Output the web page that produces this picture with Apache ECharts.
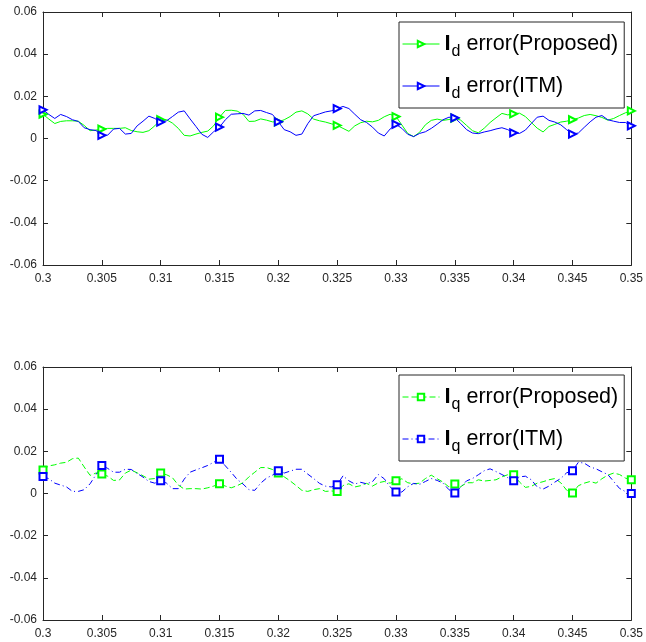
<!DOCTYPE html>
<html><head><meta charset="utf-8">
<script src="https://cdn.jsdelivr.net/npm/echarts@6/dist/echarts.min.js"></script>
<style>html,body{margin:0;padding:0;background:#fff}#c{width:646px;height:642px}</style>
</head><body><div id="c"></div>
<script>
// sample instants (s)
const time = [
0.3,0.3005,0.301,0.3015,0.302,0.3025,0.303,0.3035,0.304,0.3045,
0.305,0.3055,0.306,0.3065,0.307,0.3075,0.308,0.3085,0.309,0.3095,
0.31,0.3105,0.311,0.3115,0.312,0.3125,0.313,0.3135,0.314,0.3145,
0.315,0.3155,0.316,0.3165,0.317,0.3175,0.318,0.3185,0.319,0.3195,
0.32,0.3205,0.321,0.3215,0.322,0.3225,0.323,0.3235,0.324,0.3245,
0.325,0.3255,0.326,0.3265,0.327,0.3275,0.328,0.3285,0.329,0.3295,
0.33,0.3305,0.331,0.3315,0.332,0.3325,0.333,0.3335,0.334,0.3345,
0.335,0.3355,0.336,0.3365,0.337,0.3375,0.338,0.3385,0.339,0.3395,
0.34,0.3405,0.341,0.3415,0.342,0.3425,0.343,0.3435,0.344,0.3445,
0.345,0.3455,0.346,0.3465,0.347,0.3475,0.348,0.3485,0.349,0.3495,
0.35];

const idProposed = [
0.0115,0.0092,0.0071,0.0081,0.0084,0.0084,0.0082,0.0062,0.0037,0.0040,
0.0045,0.0048,0.0048,0.0048,0.0051,0.0038,0.0032,0.0029,0.0037,0.0060,
0.0089,0.0089,0.0073,0.0048,0.0015,0.0012,0.0021,0.0029,0.0035,0.0060,
0.0101,0.0133,0.0134,0.0130,0.0115,0.0081,0.0082,0.0093,0.0087,0.0079,
0.0079,0.0089,0.0104,0.0125,0.0131,0.0117,0.0092,0.0084,0.0078,0.0070,
0.0062,0.0048,0.0034,0.0060,0.0075,0.0082,0.0079,0.0086,0.0103,0.0115,
0.0104,0.0064,0.0024,0.0009,0.0029,0.0065,0.0086,0.0092,0.0086,0.0090,
0.0097,0.0087,0.0062,0.0037,0.0027,0.0049,0.0076,0.0098,0.0119,0.0112,
0.0117,0.0120,0.0104,0.0076,0.0049,0.0031,0.0057,0.0067,0.0078,0.0082,
0.0089,0.0097,0.0109,0.0114,0.0108,0.0100,0.0087,0.0095,0.0109,0.0122,
0.0131];

const idITM = [
0.0136,0.0114,0.0095,0.0114,0.0104,0.0089,0.0081,0.0051,0.0042,0.0038,
0.0015,0.0016,0.0045,0.0048,0.0021,0.0024,0.0060,0.0082,0.0106,0.0095,
0.0078,0.0084,0.0104,0.0125,0.0131,0.0093,0.0057,0.0020,0.0005,0.0032,
0.0054,0.0089,0.0115,0.0117,0.0119,0.0111,0.0131,0.0133,0.0123,0.0114,
0.0079,0.0042,0.0032,0.0015,0.0021,0.0070,0.0108,0.0117,0.0126,0.0131,
0.0142,0.0152,0.0142,0.0115,0.0089,0.0076,0.0054,0.0026,0.0012,0.0045,
0.0067,0.0048,0.0020,0.0009,0.0024,0.0032,0.0048,0.0068,0.0089,0.0101,
0.0098,0.0071,0.0042,0.0026,0.0023,0.0031,0.0037,0.0045,0.0051,0.0042,
0.0027,0.0024,0.0040,0.0071,0.0101,0.0106,0.0086,0.0078,0.0065,0.0042,
0.0021,0.0026,0.0053,0.0079,0.0101,0.0109,0.0089,0.0082,0.0076,0.0076,
0.0060];

const iqProposed = [
0.0112,0.0131,0.0136,0.0144,0.0148,0.0165,0.0168,0.0126,0.0086,0.0097,
0.0092,0.0082,0.0062,0.0064,0.0097,0.0111,0.0098,0.0084,0.0068,0.0071,
0.0097,0.0089,0.0075,0.0040,0.0021,0.0023,0.0023,0.0021,0.0027,0.0035,
0.0046,0.0035,0.0027,0.0037,0.0051,0.0079,0.0101,0.0123,0.0123,0.0114,
0.0097,0.0079,0.0060,0.0038,0.0015,0.0010,0.0018,0.0023,0.0010,0.0012,
0.0010,0.0038,0.0046,0.0031,0.0037,0.0048,0.0035,0.0051,0.0057,0.0049,
0.0060,0.0070,0.0051,0.0046,0.0049,0.0071,0.0087,0.0070,0.0054,0.0031,
0.0045,0.0032,0.0051,0.0051,0.0065,0.0059,0.0062,0.0065,0.0079,0.0089,
0.0089,0.0054,0.0029,0.0034,0.0049,0.0056,0.0065,0.0071,0.0051,0.0016,
0.0002,0.0037,0.0049,0.0057,0.0049,0.0070,0.0087,0.0097,0.0090,0.0073,
0.0065];

const iqITM = [
0.0081,0.0070,0.0049,0.0040,0.0031,0.0010,0.0010,0.0018,0.0046,0.0089,
0.0133,0.0119,0.0101,0.0101,0.0115,0.0114,0.0095,0.0078,0.0057,0.0049,
0.0060,0.0049,0.0023,0.0023,0.0068,0.0101,0.0112,0.0122,0.0133,0.0148,
0.0163,0.0131,0.0100,0.0067,0.0045,0.0018,0.0015,0.0049,0.0073,0.0087,
0.0108,0.0097,0.0106,0.0115,0.0115,0.0092,0.0071,0.0048,0.0035,0.0031,
0.0042,0.0084,0.0060,0.0045,0.0053,0.0046,0.0056,0.0090,0.0070,0.0031,
0.0007,0.0007,0.0032,0.0048,0.0043,0.0057,0.0071,0.0062,0.0049,0.0018,
0.0002,0.0031,0.0060,0.0071,0.0089,0.0108,0.0117,0.0104,0.0090,0.0075,
0.0060,0.0079,0.0082,0.0065,0.0031,0.0021,0.0035,0.0054,0.0071,0.0098,
0.0108,0.0148,0.0144,0.0126,0.0117,0.0103,0.0090,0.0057,0.0024,0.0009,
0.0000];

const xMin = 0.3, xMax = 0.35, xStep = 0.005;
const yMin = -0.06, yMax = 0.06, yStep = 0.02;

const FONT = 'Liberation Sans, Arial, sans-serif';
const AX = '#262626';
const GREEN = '#00ff00', BLUE = '#0000ff';

const legendText = {
  'Id error(Proposed)': '{b|I}{s|d}{t| error(Proposed)}',
  'Id error(ITM)': '{b|I}{s|d}{t| error(ITM)}',
  'Iq error(Proposed)': '{b|I}{s|q}{t| error(Proposed)}',
  'Iq error(ITM)': '{b|I}{s|q}{t| error(ITM)}'
};

const pairs = arr => arr.map((v, i) => [time[i], v]);
const markEvery = (n, size) => (val, p) => (p.dataIndex % n === 0 ? size : 0);

function xAx(g, bottom) {
  return {
    gridIndex: g, type: 'value', min: xMin, max: xMax, interval: xStep,
    position: bottom ? 'bottom' : 'top',
    axisLine: {show: true, onZero: false, lineStyle: {color: AX, width: 1}},
    axisTick: {show: true, inside: true, length: 5, lineStyle: {color: AX}},
    splitLine: {show: false},
    axisLabel: bottom ? {show: true, margin: 8, fontSize: 12, color: AX, fontFamily: FONT} : {show: false}
  };
}
function yAx(g, left) {
  return {
    gridIndex: g, type: 'value', min: yMin, max: yMax, interval: yStep,
    position: left ? 'left' : 'right',
    axisLine: {show: true, onZero: false, lineStyle: {color: AX, width: 1}},
    axisTick: {show: true, inside: true, length: 5, lineStyle: {color: AX}},
    splitLine: {show: false},
    axisLabel: left ? {show: true, margin: 6, fontSize: 12, color: AX, fontFamily: FONT} : {show: false}
  };
}
function legendCfg(top, names) {
  return {
    data: names, orient: 'vertical', left: 399, top: top,
    padding: [6, 6, 6, 3], itemGap: 10, itemWidth: 37, itemHeight: 8,
    backgroundColor: '#fff', borderColor: AX, borderWidth: 1, borderRadius: 0,
    selectedMode: false,
    lineStyle: {width: 1},
    formatter: n => legendText[n],
    textStyle: {
      fontFamily: FONT, color: '#000',
      rich: {
        b: {fontFamily: FONT, fontWeight: 'bold', fontSize: 22, color: '#000', lineHeight: 28},
        s: {fontFamily: FONT, fontSize: 16, color: '#000', lineHeight: 28, padding: [16, 0, 0, 1]},
        t: {fontFamily: FONT, fontSize: 21.5, color: '#000', lineHeight: 28}
      }
    }
  };
}
function lineSeries(name, arr, g, color, symbol, size, dash) {
  return {
    name, type: 'line', xAxisIndex: 2 * g, yAxisIndex: 2 * g,
    data: pairs(arr), clip: false, animation: false, silent: true,
    showSymbol: true, showAllSymbol: true,
    symbol: symbol, symbolRotate: symbol === 'emptyTriangle' ? -90 : 0,
    symbolSize: markEvery(10, size),
    lineStyle: {color, width: 1, type: dash || 'solid'},
    itemStyle: {color, borderWidth: 1}
  };
}

const chart = echarts.init(document.getElementById('c'), null, {renderer: 'canvas'});
chart.setOption({
  backgroundColor: '#fff',
  animation: false,
  grid: [
    {left: 43, top: 12, width: 590, height: 253},
    {left: 43, top: 367, width: 590, height: 253}
  ],
  xAxis: [xAx(0, true), xAx(0, false), xAx(1, true), xAx(1, false)],
  yAxis: [yAx(0, true), yAx(0, false), yAx(1, true), yAx(1, false)],
  legend: [
    legendCfg(22, ['Id error(Proposed)', 'Id error(ITM)']),
    legendCfg(375, ['Iq error(Proposed)', 'Iq error(ITM)'])
  ],
  series: [
    lineSeries('Id error(Proposed)', idProposed, 0, GREEN, 'emptyTriangle', 7),
    lineSeries('Id error(ITM)', idITM, 0, BLUE, 'emptyTriangle', 7),
    lineSeries('Iq error(Proposed)', iqProposed, 1, GREEN, 'emptyRect', 7, [6, 3]),
    lineSeries('Iq error(ITM)', iqITM, 1, BLUE, 'emptyRect', 7, [6, 3, 1, 3])
  ]
});
</script></body></html>
